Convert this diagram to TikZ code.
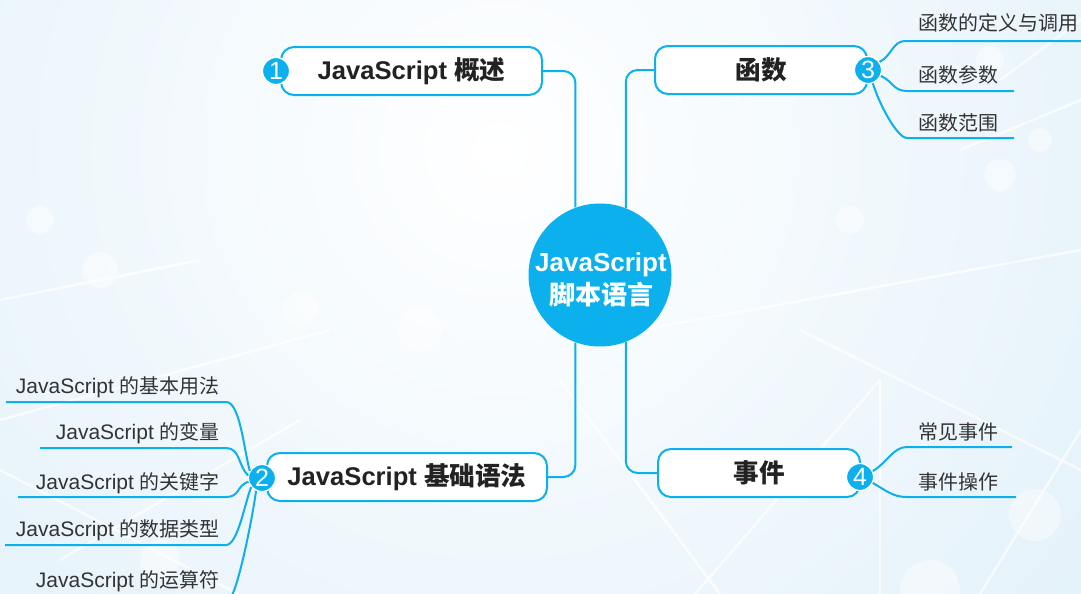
\documentclass[tikz,border=0pt]{standalone}
\usepackage{fontspec}
\setmainfont{Liberation Sans}
\newfontfamily\cjk{Noto Sans CJK SC}
\newfontfamily\cjks[Scale=0.95]{Noto Sans CJK SC}
\usetikzlibrary{calc}
\definecolor{jsblue}{HTML}{0BB0EC}
\definecolor{txt}{HTML}{333333}
\definecolor{ttl}{HTML}{222222}
\definecolor{bgblue}{HTML}{D2E9F7}
\newcommand{\zh}[1]{{\cjk #1}}
\newcommand{\zhs}[1]{{\cjks #1}}
\begin{document}
\begin{tikzpicture}[x=0.5pt,y=-0.5pt,
  topic/.style={draw=jsblue, line width=1pt, fill=white, rounded corners=6.5pt,
    minimum height=24pt, inner sep=0pt, text=ttl,
    font=\fontsize{12.8}{14}\selectfont\bfseries},
  badge/.style={circle, fill=jsblue, draw=white, line width=0.6pt, minimum size=13.5pt,
    inner sep=0pt, text=white, font=\fontsize{12.5}{12.5}\selectfont},
  leaf/.style={font=\fontsize{10.5}{12}\selectfont, text=txt, inner sep=0pt},
  conn/.style={draw=jsblue, line width=1pt},
  bgline/.style={draw=white, line width=1.2pt, opacity=0.75},
  bgdot/.style={fill=white, opacity=0.45}
]
% background
\useasboundingbox (0,0) rectangle (1081,594);
\clip (0,0) rectangle (1081,594);
\fill[bgblue] (0,0) rectangle (1081,594);
\shade[inner color=white, outer color=bgblue] (-700,-1050) rectangle (1700,1350);
\path[bgline] (0,420) -- (330,330);
\path[bgline] (0,470) -- (250,600);
\path[bgline] (60,560) -- (300,420);
\path[bgline] (640,330) -- (1081,250);
\path[bgline] (690,600) -- (880,380);
\path[bgline] (880,594) -- (880,380);
\path[bgline] (800,330) -- (1081,470);
\path[bgline] (980,594) -- (1081,430);
\path[bgline] (1000,80) -- (1081,20);
\path[bgline] (960,150) -- (1081,100);
\path[bgline] (560,380) -- (720,594);
\path[bgline] (0,300) -- (200,260);
\path[bgdot] (100,270) circle (18);
\path[bgdot] (40,220) circle (14);
\path[bgdot] (1000,175) circle (16);
\path[bgdot] (1040,140) circle (12);
\path[bgdot] (1035,515) circle (26);
\path[bgdot] (990,60) circle (14);
\path[bgdot] (160,560) circle (20);
\path[bgdot] (420,330) circle (22);
\path[bgdot] (300,310) circle (18);
\path[bgdot] (850,220) circle (14);
\path[bgdot] (930,590) circle (30);

% central topic
\node[circle, fill=jsblue, minimum size=71.5pt, inner sep=0pt] (center) at (600,275) {};
\node[font=\fontsize{13}{16.5}\selectfont\bfseries, text=white, align=center, inner sep=0pt]
  (centertext) at (601,280) {JavaScript\\\zh{脚本语言}};

% main topics
\node[topic, minimum width=130.5pt] (t1) at (411.5,71) {JavaScript \zh{概述}};
\node[topic, minimum width=140pt] (t2) at (407,477) {JavaScript \zh{基础语法}};
\node[topic, minimum width=106pt] (t3) at (761,70) {\zh{函数}};
\node[topic, minimum width=101pt] (t4) at (759,473) {\zh{事件}};

% trunk connectors
\draw[conn, rounded corners=6pt] (center.110) |- (t1.east);
\draw[conn, rounded corners=6pt] (center.250) |- (t2.east);
\draw[conn, rounded corners=6pt] (center.69) |- (t3.west);
\draw[conn, rounded corners=6pt] (center.291) |- (t4.west);

% badges
\node[badge] (b1) at (276,71) {1};
\node[badge] (b2) at (262,478) {2};
\node[badge] (b3) at (868,70) {3};
\node[badge] (b4) at (860,477) {4};

% leaves of topic 3
\coordinate (f1a) at (905,41);  \coordinate (f1b) at (1081,41);
\coordinate (f2a) at (907,91);  \coordinate (f2b) at (1014,91);
\coordinate (f3a) at (907,138); \coordinate (f3b) at (1014,138);
\node[leaf, anchor=base west] (f1) at (918,31) {\zhs{函数的定义与调用}};
\node[leaf, anchor=base west] (f2) at (918,82) {\zhs{函数参数}};
\node[leaf, anchor=base west] (f3) at (918,130) {\zhs{函数范围}};
\draw[conn] (b3.35) .. controls +(12,-6) and +(-12,0) .. (f1a) -- (f1b);
\draw[conn] (b3.-25) .. controls +(12,5) and +(-14,0) .. (f2a) -- (f2b);
\draw[conn] (b3.-70) .. controls +(6,20) and +(-10,0) .. (f3a) -- (f3b);

% leaves of topic 4
\coordinate (e1a) at (907,447); \coordinate (e1b) at (1012,447);
\coordinate (e2a) at (907,497); \coordinate (e2b) at (1016,497);
\node[leaf, anchor=base west] (e1) at (918,439) {\zhs{常见事件}};
\node[leaf, anchor=base west] (e2) at (918,489) {\zhs{事件操作}};
\draw[conn] (b4.25) .. controls +(14,-8) and +(-14,0) .. (e1a) -- (e1b);
\draw[conn] (b4.-25) .. controls +(14,8) and +(-14,0) .. (e2a) -- (e2b);

% leaves of topic 2
\coordinate (l1a) at (6,402);   \coordinate (l1b) at (226,402);
\coordinate (l2a) at (40,448);  \coordinate (l2b) at (226,448);
\coordinate (l3a) at (18,497);  \coordinate (l3b) at (226,497);
\coordinate (l4a) at (5,545);   \coordinate (l4b) at (226,545);
\coordinate (l5a) at (10,600);  \coordinate (l5b) at (228,600);
\node[leaf, anchor=base east] (l1) at (220,393) {JavaScript \zhs{的基本用法}};
\node[leaf, anchor=base east] (l2) at (220,439) {JavaScript \zhs{的变量}};
\node[leaf, anchor=base east] (l3) at (220,489) {JavaScript \zhs{的关键字}};
\node[leaf, anchor=base east] (l4) at (220,536) {JavaScript \zhs{的数据类型}};
\node[leaf, anchor=base east] (l5) at (220,587) {JavaScript \zhs{的运算符}};
\draw[conn] (l1a) -- (l1b) .. controls +(14,0) and +(-6,-22) .. (b2.150);
\draw[conn] (l2a) -- (l2b) .. controls +(14,0) and +(-10,-10) .. (b2.170);
\draw[conn] (l3a) -- (l3b) .. controls +(14,0) and +(-12,4) .. (b2.195);
\draw[conn] (l4a) -- (l4b) .. controls +(12,0) and +(-6,14) .. (b2.220);
\draw[conn] (l5a) -- (l5b) .. controls +(8,0) and +(-4,30) .. (b2.245);
\end{tikzpicture}
\end{document}
